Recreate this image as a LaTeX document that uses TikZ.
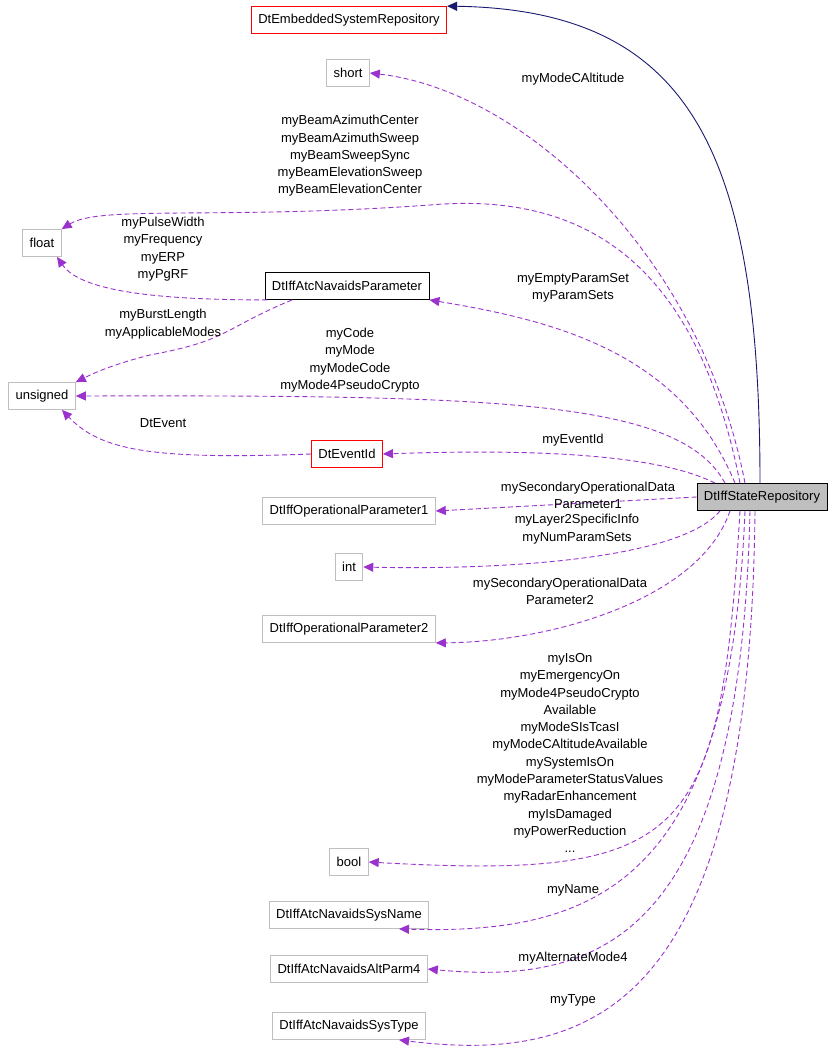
\documentclass[tikz,border=0pt]{standalone}
\usepackage{fontspec}
\setmainfont{Liberation Sans}
\usetikzlibrary{arrows.meta, positioning}
\definecolor{edgepurple}{HTML}{9A32CD}
\definecolor{edgenavy}{HTML}{191970}
\definecolor{boxgrey}{HTML}{BFBFBF}
\begin{document}
\begin{tikzpicture}[x=1pt, y=-1pt, font=\fontsize{13}{17.3}\selectfont]
    % Styles
    \tikzset{
      cls/.style = {rectangle, draw=boxgrey, fill=white, line width=0.8pt, minimum height=27pt, inner xsep=7pt, anchor=center},
      redcls/.style = {cls, draw=red},
      blackcls/.style = {cls, draw=black},
      usage/.style = {draw=edgepurple, line width=0.9pt, dash pattern=on 5pt off 3pt, -{Triangle[length=10pt, width=9pt]}},
      inherit/.style = {draw=edgenavy, line width=0.9pt, -{Triangle[length=10pt, width=9pt]}},
      lbl/.style = {align=center, inner sep=0pt}
    }
    \useasboundingbox (0,0) rectangle (840,1061);

    % --- CLASSES ---
    \node [redcls] (embedded) at (349,20) {DtEmbeddedSystemRepository};
    \node [cls] (short) at (348,73) {short};
    \node [cls] (float) at (42,243) {float};
    \node [blackcls] (navparam) at (347,286) {DtIffAtcNavaidsParameter};
    \node [cls] (unsigned) at (42,396) {unsigned};
    \node [redcls] (eventid) at (347,454) {DtEventId};
    \node [cls, draw=black, fill=boxgrey] (state) at (762,497) {DtIffStateRepository};
    \node [cls] (oparam1) at (349,511) {DtIffOperationalParameter1};
    \node [cls] (int) at (349,567) {int};
    \node [cls] (oparam2) at (349,629) {DtIffOperationalParameter2};
    \node [cls] (bool) at (349,862) {bool};
    \node [cls] (sysname) at (349,915) {DtIffAtcNavaidsSysName};
    \node [cls] (altparm) at (349,969) {DtIffAtcNavaidsAltParm4};
    \node [cls] (systype) at (349,1026) {DtIffAtcNavaidsSysType};

    % --- CONNECTIONS ---
    \draw [inherit] ([xshift=-2pt]state.north) .. controls (760,150) and (690,10) .. (embedded.north east);
    \draw [usage] ([xshift=-17pt]state.north) .. controls (700,250) and (520,90) .. (short.east);
    \draw [usage] ([xshift=-22pt]state.north) .. controls (700,280) and (600,190) .. (430,205)
        .. controls (220,220) and (100,205) .. (float.north east);
    \draw [usage] ([xshift=-27pt]state.north) .. controls (680,350) and (550,320) .. (navparam.south east);
    \draw [usage] ([xshift=-80pt]navparam.south) .. controls (150,300) and (80,290) .. ([xshift=15pt]float.south);
    \draw [usage] ([xshift=-55pt]navparam.south) .. controls (220,330) and (230,340) .. (150,355)
        .. controls (110,365) and (90,375) .. (unsigned.north east);
    \draw [usage] ([xshift=-37pt]state.north) .. controls (680,400) and (500,395) .. (unsigned.east);
    \draw [usage] (eventid.west) .. controls (150,460) and (100,450) .. ([xshift=20pt]unsigned.south);
    \draw [usage] ([xshift=-47pt]state.north) .. controls (650,450) and (500,450) .. (eventid.east);
    \draw [usage] (state.west) -- (oparam1.east);
    \draw [usage] ([xshift=-42pt]state.south) .. controls (680,560) and (500,570) .. (int.east);
    \draw [usage] ([xshift=-32pt]state.south) .. controls (700,600) and (550,642) .. (oparam2.south east);
    \draw [usage] ([xshift=-22pt]state.south) .. controls (720,840) and (690,880) .. (bool.east);
    \draw [usage] ([xshift=-17pt]state.south) .. controls (730,880) and (600,935) .. ([xshift=50pt]sysname.south);
    \draw [usage] ([xshift=-12pt]state.south) .. controls (740,940) and (600,985) .. (altparm.east);
    \draw [usage] ([xshift=-7pt]state.south) .. controls (750,1000) and (600,1065) .. ([xshift=50pt]systype.south);

    % --- LABELS ---
    \node [lbl] (lshort) at (573,79) {myModeCAltitude};
    \node [lbl] (lfloat) at (350,156) {myBeamAzimuthCenter\\myBeamAzimuthSweep\\myBeamSweepSync\\myBeamElevationSweep\\myBeamElevationCenter};
    \node [lbl] (lpulse) at (163,249) {myPulseWidth\\myFrequency\\myERP\\myPgRF};
    \node [lbl] (lparam) at (573,288) {myEmptyParamSet\\myParamSets};
    \node [lbl] (lburst) at (163,324) {myBurstLength\\myApplicableModes};
    \node [lbl] (lcode) at (350,360) {myCode\\myMode\\myModeCode\\myMode4PseudoCrypto};
    \node [lbl] (levent) at (163,423) {DtEvent};
    \node [lbl] (leventid) at (573,440) {myEventId};
    \node [lbl] (lop1) at (588,495) {mySecondaryOperationalData\\Parameter1};
    \node [lbl] (lint) at (577,529) {myLayer2SpecificInfo\\myNumParamSets};
    \node [lbl] (lop2) at (560,591) {mySecondaryOperationalData\\Parameter2};
    \node [lbl] (lbool) at (570,753) {myIsOn\\myEmergencyOn\\myMode4PseudoCrypto\\Available\\myModeSIsTcasI\\myModeCAltitudeAvailable\\mySystemIsOn\\myModeParameterStatusValues\\myRadarEnhancement\\myIsDamaged\\myPowerReduction\\...};
    \node [lbl] (lname) at (573,890) {myName};
    \node [lbl] (lalt) at (573,958) {myAlternateMode4};
    \node [lbl] (ltype) at (573,1000) {myType};
\end{tikzpicture}
\end{document}
